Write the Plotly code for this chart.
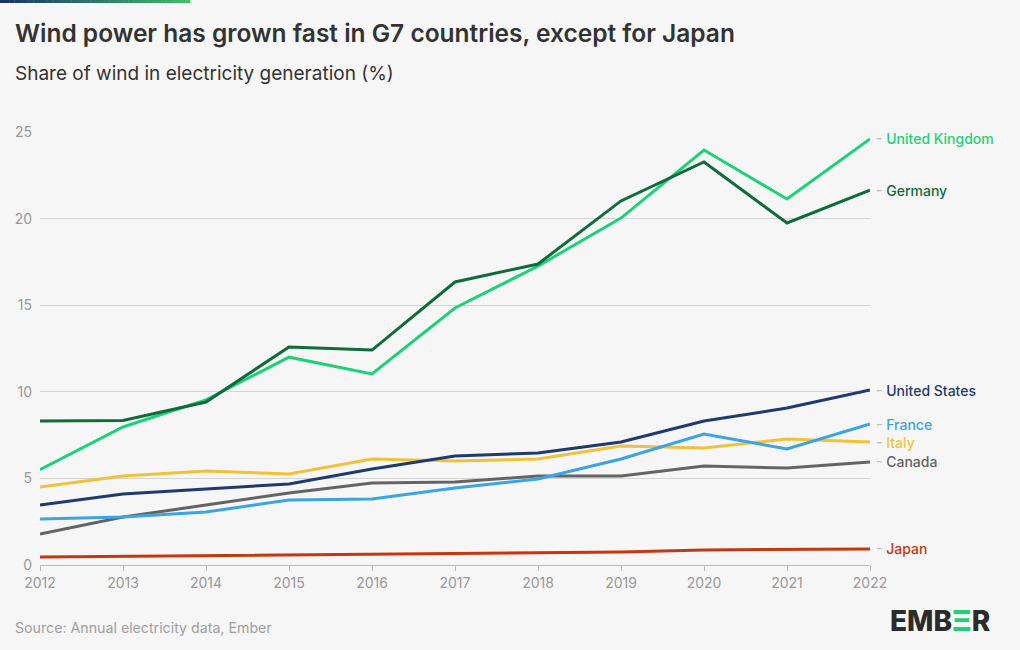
import plotly.graph_objects as go

years = list(range(2012, 2023))
countries = ["United Kingdom", "Germany", "United States", "France", "Italy", "Canada", "Japan"]
uk = [5.5, 7.97, 9.53, 12.0, 11.03, 14.84, 17.26, 20.03, 23.96, 21.13, 24.6]
germany = [8.31, 8.35, 9.41, 12.59, 12.41, 16.34, 17.38, 21.02, 23.27, 19.75, 21.65]
us = [3.46, 4.10, 4.39, 4.68, 5.54, 6.29, 6.47, 7.10, 8.31, 9.06, 10.1]
france = [2.66, 2.77, 3.06, 3.75, 3.81, 4.45, 4.97, 6.12, 7.56, 6.70, 8.14]
italy = [4.50, 5.14, 5.43, 5.25, 6.12, 6.0, 6.12, 6.87, 6.76, 7.27, 7.10]
canada = [1.79, 2.77, 3.46, 4.16, 4.73, 4.79, 5.14, 5.14, 5.72, 5.60, 5.95]
japan = [0.46, 0.50, 0.52, 0.56, 0.62, 0.64, 0.69, 0.75, 0.87, 0.92, 0.93]
series = [uk, germany, us, france, italy, canada, japan]
colors = ["#1fd07a", "#0f6b3b", "#1e3a6e", "#3ba4e4", "#f0c23c", "#646464", "#c7360f"]
y_ticks = [0, 5, 10, 15, 20, 25]
x_ticks = years

FONT = "Inter"
fig = go.Figure()
# draw order: back to front
order = [6, 5, 4, 3, 2, 0, 1]
for i in order:
    fig.add_trace(go.Scatter(x=years, y=series[i], mode="lines", name=countries[i],
                             line=dict(color=colors[i], width=3), hoverinfo="skip"))

for name, vals, col in zip(countries, series, colors):
    fig.add_annotation(x=years[-1], y=vals[-1], xref="x", yref="y",
                       text=f"<span style='color:#c0c0c0'>-</span> {name}",
                       showarrow=False, xanchor="left", yanchor="middle", xshift=4,
                       font=dict(family=FONT, size=14, color=col, weight=500))

fig.update_layout(
    width=1020, height=650,
    paper_bgcolor="#f6f6f6", plot_bgcolor="#f6f6f6",
    margin=dict(l=40, r=150, t=132, b=85),
    showlegend=False,
    font=dict(family=FONT, color="#999"),
    xaxis=dict(range=[2012, 2022], tickvals=x_ticks, ticktext=[str(y) for y in x_ticks],
               showgrid=False, zeroline=False, showline=True, linecolor="#bbbbbb", linewidth=1,
               ticks="outside", ticklen=5, tickcolor="#bbbbbb",
               tickfont=dict(family=FONT, size=14, color="#999")),
    yaxis=dict(range=[0, 25], tickvals=y_ticks, showgrid=True, gridcolor="#d4d4d4", gridwidth=1,
               zeroline=False, showline=False, ticks="", ticklabelstandoff=7,
               tickfont=dict(family=FONT, size=14, color="#999")),
)

# gradient bar at top
n = 40
for k in range(n):
    t = k / (n - 1)
    r = int(0x1b + (0x3f - 0x1b) * t)
    g = int(0x33 + (0xbd - 0x33) * t)
    b = int(0x66 + (0x6c - 0x66) * t)
    fig.add_shape(type="rect", xref="paper", yref="paper",
                  x0=(-40 + 190 * k / n) / 830, x1=(-40 + 190 * (k + 1) / n) / 830 + 0.0005,
                  y0=1 + 129 / 433, y1=1 + 132 / 433,
                  fillcolor=f"rgb({r},{g},{b})", line=dict(width=0), layer="above")

fig.add_annotation(text="Wind power has grown fast in G7 countries, except for Japan",
                   xref="paper", yref="paper", x=-27 / 830, y=1 + (132 - 33) / 433,
                   xanchor="left", yanchor="middle", showarrow=False,
                   font=dict(family=FONT, size=24.5, color="#333", weight=600))
fig.add_annotation(text="Share of wind in electricity generation (%)",
                   xref="paper", yref="paper", x=-27 / 830, y=1 + (132 - 73) / 433,
                   xanchor="left", yanchor="middle", showarrow=False,
                   font=dict(family=FONT, size=19, color="#333"))
fig.add_annotation(text="Source: Annual electricity data, Ember",
                   xref="paper", yref="paper", x=-27 / 830, y=-(627 - 565) / 433,
                   xanchor="left", yanchor="middle", showarrow=False,
                   font=dict(family=FONT, size=14.2, color="#a0a0a0"))
fig.add_annotation(text="EMB<span style='color:#22d07a'>Ξ</span>R",
                   xref="paper", yref="paper", x=(993 - 40) / 830, y=-(621 - 565) / 433,
                   xanchor="right", yanchor="middle", showarrow=False,
                   font=dict(family=FONT, size=28, color="#2b2b2b", weight=800))

fig.write_html("out.html")
